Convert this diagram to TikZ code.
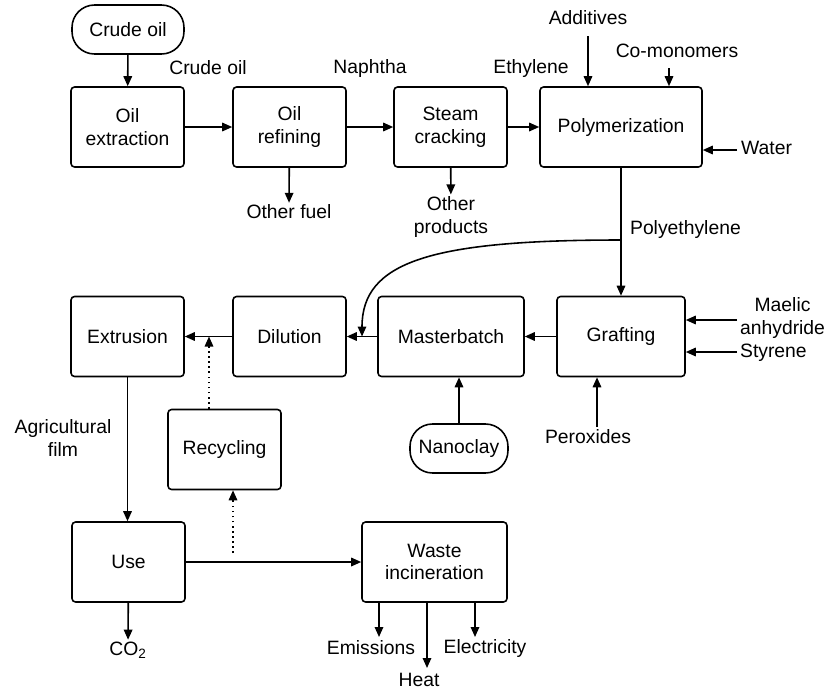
\documentclass[tikz,border=0pt]{standalone}
\usepackage{fontspec}
\setmainfont{Liberation Sans}
\usetikzlibrary{arrows.meta}
\tikzset{
  box/.style={draw,rounded corners=2pt,line width=0.9pt,align=center,inner sep=0pt,
    minimum width=2.26cm,minimum height=1.6cm},
  term/.style={draw,rounded corners=0.45cm,line width=0.9pt,inner sep=0pt,minimum height=0.98cm},
  lbl/.style={align=center,inner sep=1pt},
  flow/.style={line width=0.9pt,-{Triangle[length=2mm,width=1.7mm]}},
}
\begin{document}
\begin{tikzpicture}[x=0.02cm,y=-0.02cm,font=\fontsize{11}{13}\selectfont]
    \useasboundingbox (0,0) rectangle (826,691);
    % process boxes
    \node[term,minimum width=2.24cm] (crude) at (128,29.5) {Crude oil};
    \node[box] (extract) at (127.5,127) {Oil\\extraction};
    \node[box] (refin) at (289.5,127) {Oil\\refining};
    \node[box] (steam) at (450.5,127) {Steam\\cracking};
    \node[box,minimum width=3.24cm] (polym) at (621,127) {Polymerization};
    \node[box] (extrus) at (127.5,336.5) {Extrusion};
    \node[box] (dilut) at (289.5,336.5) {Dilution};
    \node[box,minimum width=2.92cm] (master) at (451,336.5) {Masterbatch};
    \node[box,minimum width=2.56cm] (graft) at (621,336.5) {Grafting};
    \node[term,minimum width=1.96cm] (nano) at (459,448.5) {Nanoclay};
    \node[box] (recyc) at (224.5,449.5) {Recycling};
    \node[box] (use) at (128.5,562) {Use};
    \node[box,minimum width=2.9cm] (waste) at (434.5,562) {Waste\\incineration};
    % labels
    \node[lbl] (lcrude) at (208,68) {Crude oil};
    \node[lbl] (lnaph) at (370,68) {Naphtha};
    \node[lbl] (leth) at (531,68) {Ethylene};
    \node[lbl] (add) at (588,18) {Additives};
    \node[lbl] (comono) at (677,51) {Co-monomers};
    \node[lbl,anchor=west] (water) at (739,148) {Water};
    \node[lbl] (ofuel) at (289,212) {Other fuel};
    \node[lbl] (oprod) at (451,217) {Other\\products};
    \node[lbl,anchor=west] (pe) at (628,229) {Polyethylene};
    \node[lbl,anchor=west] (maelic) at (738,318) {Maelic\\anhydride};
    \node[lbl,anchor=west] (styr) at (738,353) {Styrene};
    \node[lbl] (agri) at (63,438) {Agricultural\\film};
    \node[lbl] (perox) at (588,437) {Peroxides};
    \node[lbl] (co2) at (128,650) {CO\textsubscript{2}};
    \node[lbl] (emis) at (371,648) {Emissions};
    \node[lbl] (heat) at (419,680) {Heat};
    \node[lbl] (elec) at (485,648) {Electricity};
    % free ends
    \coordinate (addin) at (588,36);
    \coordinate (comin) at (669,68);
    \coordinate (watin) at (737,150);
    \coordinate (split) at (621,240);
    \coordinate (mix) at (362,336.5);
    \coordinate (main) at (737,320);
    \coordinate (styin) at (737,352);
    \coordinate (perin) at (597,427);
    \coordinate (recin) at (209,336.5);
    \coordinate (recout) at (233,553);
    \coordinate (emx) at (379,637);
    \coordinate (heatx) at (427,668);
    \coordinate (elx) at (475,637);
    % main chain
    \draw[flow] (crude) -- (extract);
    \draw[flow] (extract) -- (refin);
    \draw[flow] (refin) -- (steam);
    \draw[flow] (steam) -- (polym);
    \draw[flow] (refin) -- (ofuel);
    \draw[flow] (steam) -- (oprod);
    \draw[flow] (addin) -- (addin |- polym.north);
    \draw[flow] (comin) -- (comin |- polym.north);
    \draw[flow] (watin) -- (watin -| polym.east);
    \draw[flow] (polym) -- (graft);
    \draw[flow] (split) .. controls (430,240) and (362,262) .. (mix);
    \draw[flow] (graft) -- (master);
    \draw[flow] (master) -- (dilut);
    \draw[flow] (dilut) -- (extrus);
    \draw[flow] (main) -- (main -| graft.east);
    \draw[flow] (styin) -- (styin -| graft.east);
    \draw[flow] (perin) -- (perin |- graft.south);
    \draw[flow] (nano) -- (nano |- master.south);
    % use and end of life
    \draw[flow,dotted] (recin |- recyc.north) -- (recin);
    \draw[flow] (extrus) -- (extrus |- use.north);
    \draw[flow] (use) -- (waste);
    \draw[flow,dotted] (recout) -- (recout |- recyc.south);
    \draw[flow] (use) -- (co2);
    \draw[flow] (emx |- waste.south) -- (emx);
    \draw[flow] (heatx |- waste.south) -- (heatx);
    \draw[flow] (elx |- waste.south) -- (elx);
\end{tikzpicture}
\end{document}
